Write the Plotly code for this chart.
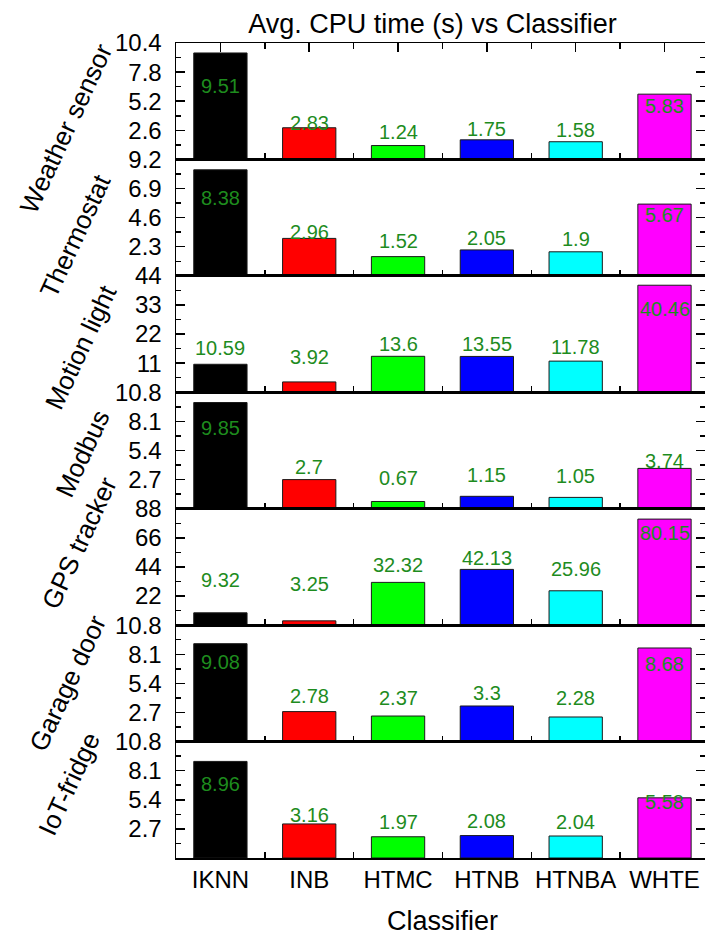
import plotly.graph_objects as go
from plotly.subplots import make_subplots

# ---------------- data ----------------
classifiers = ["IKNN", "INB", "HTMC", "HTNB", "HTNBA", "WHTE"]
devices = ["Weather sensor", "Thermostat", "Motion light", "Modbus",
           "GPS tracker", "Garage door", "IoT-fridge"]
weather_sensor = [9.51, 2.83, 1.24, 1.75, 1.58, 5.83]
thermostat = [8.38, 2.96, 1.52, 2.05, 1.9, 5.67]
motion_light = [10.59, 3.92, 13.6, 13.55, 11.78, 40.46]
modbus = [9.85, 2.7, 0.67, 1.15, 1.05, 3.74]
gps_tracker = [9.32, 3.25, 32.32, 42.13, 25.96, 80.15]
garage_door = [9.08, 2.78, 2.37, 3.3, 2.28, 8.68]
iot_fridge = [8.96, 3.16, 1.97, 2.08, 2.04, 5.58]
series = [weather_sensor, thermostat, motion_light, modbus,
          gps_tracker, garage_door, iot_fridge]
y_max = [10.4, 9.2, 44, 10.8, 88, 10.8, 10.8]
y_tick_labels = [
    ["2.6", "5.2", "7.8", "10.4"],
    ["2.3", "4.6", "6.9", "9.2"],
    ["11", "22", "33", "44"],
    ["2.7", "5.4", "8.1", "10.8"],
    ["22", "44", "66", "88"],
    ["2.7", "5.4", "8.1", "10.8"],
    ["2.7", "5.4", "8.1", "10.8"],
]
title_text = "Avg. CPU time (s) vs Classifier"
x_title = "Classifier"

# ---------------- style ----------------
bar_colors = ["#000000", "#FF0000", "#00FF00", "#0000FF", "#00FFFF", "#FF00FF"]
label_color = "#1E8C1E"
FONT = "Arial, Liberation Sans, sans-serif"
label_yshift = [20.5, 25, 30, 27.5, 39, 31, 25.5]       # px above bar middle
ylab_center_x = [65.5, 74.5, 80.5, 81.5, 79, 67.5, 68.5]  # px from left
ylab_yshift = [-28, -18, -13, -3, 23.5, 0, 16]          # px from panel centre
W, H = 705, 935
ML, MT, MB = 175.5, 43, 77
n = len(devices)
x_range = [-0.5, 5.456]

fig = make_subplots(rows=n, cols=1, shared_xaxes=True, vertical_spacing=0)

for i, vals in enumerate(series):
    r = i + 1
    fig.add_trace(go.Bar(
        x=list(range(len(classifiers))), y=vals, width=0.6,
        marker=dict(color=bar_colors, line=dict(color="#1a1a1a", width=1)),
        showlegend=False, hoverinfo="skip"), row=r, col=1)
    ym = y_max[i]
    fig.update_yaxes(
        row=r, col=1, range=[0, ym], automargin=False,
        tickmode="array", tickvals=[ym * k / 4 for k in (1, 2, 3, 4)],
        ticktext=y_tick_labels[i],
        ticks="inside", ticklen=9, tickwidth=1.5, tickcolor="black",
        minor=dict(tickmode="array", tickvals=[ym * k / 8 for k in (1, 3, 5, 7)],
                   ticks="inside", ticklen=5, tickwidth=1.5, tickcolor="black"),
        showline=True, linecolor="black", linewidth=1.5, mirror="ticks",
        showgrid=False, zeroline=False,
        tickfont=dict(family=FONT, size=24, color="black"),
        ticklabelstandoff=8,
    )
    fig.update_xaxes(
        row=r, col=1, range=x_range, automargin=False,
        tickmode="array", tickvals=list(range(len(classifiers))),
        ticktext=classifiers, ticks="",
        minor=dict(tickmode="array",
                   tickvals=[k + 0.5 for k in range(len(classifiers) - 1)],
                   ticks="inside", ticklen=6, tickwidth=1.5, tickcolor="black"),
        showline=True, linecolor="black", linewidth=1.5, mirror=True,
        showgrid=False, zeroline=False,
        showticklabels=(r == n),
        tickfont=dict(family=FONT, size=24, color="black"),
    )
    # value labels
    xr = "x" if r == 1 else f"x{r}"
    yr = "y" if r == 1 else f"y{r}"
    for j, v in enumerate(vals):
        fig.add_annotation(
            x=j, y=v / 2, xref=xr, yref=yr, text=str(v), showarrow=False,
            yshift=label_yshift[i], xanchor="center", yanchor="middle",
            font=dict(family=FONT, size=20, color=label_color))
    # rotated device label
    fig.add_annotation(
        xref="paper", yref=f"{yr} domain", x=0, y=0.5,
        xshift=ylab_center_x[i] - ML, yshift=ylab_yshift[i],
        text=devices[i], textangle=-65, showarrow=False,
        xanchor="center", yanchor="middle",
        font=dict(family=FONT, size=26, color="black"))

# top axis of the first panel with ticks
fig.add_trace(go.Scatter(x=[0], y=[0], xaxis="x8", yaxis="y",
                         mode="markers", marker=dict(opacity=0),
                         showlegend=False, hoverinfo="skip"))
fig.update_layout(xaxis8=dict(
    overlaying="x", side="top", anchor="y", range=x_range, automargin=False,
    tickmode="array", tickvals=list(range(len(classifiers))),
    ticks="inside", ticklen=9, tickwidth=1.5, tickcolor="black",
    minor=dict(tickmode="array",
               tickvals=[k + 0.5 for k in range(len(classifiers) - 1)],
               ticks="inside", ticklen=6, tickwidth=1.5, tickcolor="black"),
    showticklabels=False, showline=True, linecolor="black", linewidth=1.5,
    showgrid=False, zeroline=False))

# x-axis title
fig.add_annotation(xref=f"x{n}", yref="paper", x=(len(classifiers) - 1) / 2,
                   y=0, yshift=-(921 - (H - MB)), text=x_title,
                   showarrow=False, xanchor="center", yanchor="middle",
                   font=dict(family=FONT, size=27, color="black"))

fig.update_layout(
    width=W, height=H,
    margin=dict(l=ML, r=0, t=MT, b=MB, autoexpand=False),
    paper_bgcolor="white", plot_bgcolor="white",
    title=dict(text=title_text, xref="container", yref="container",
               x=432.5 / W, y=1 - 23.5 / H, xanchor="center", yanchor="middle",
               font=dict(family=FONT, size=27, color="black")),
    bargap=0.4,
)

fig.write_html(
    "out.html",
    config={"displayModeBar": False, "staticPlot": True},
    post_script="document.body.style.margin='0px';"
                "document.body.style.overflow='hidden';",
)
